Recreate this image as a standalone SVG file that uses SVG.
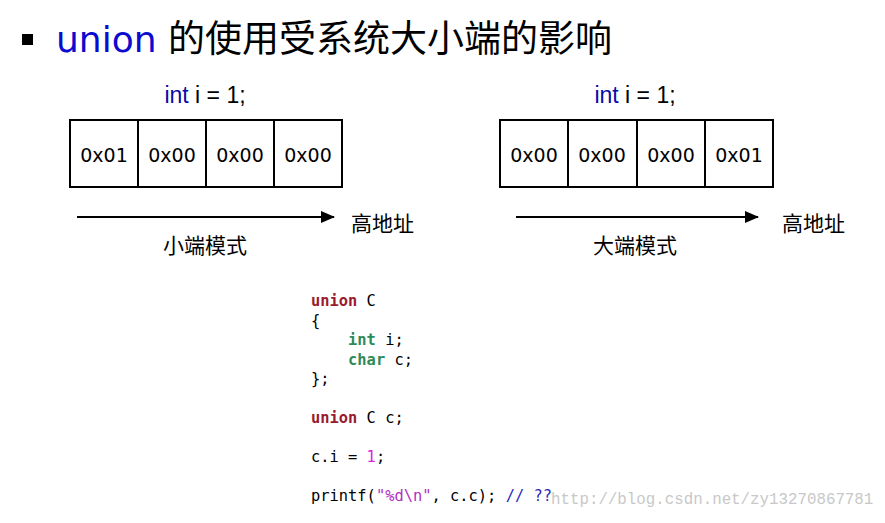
<svg xmlns="http://www.w3.org/2000/svg" width="885" height="523" viewBox="0 0 885 523">
<defs>
<style>
.t{font-family:"Liberation Sans","Noto Sans CJK SC",sans-serif;fill:#000}
.cell{fill:#fff;stroke:#000;stroke-width:2}
.ct{font-family:"DejaVu Sans","Noto Sans CJK SC",sans-serif;font-size:19px;text-anchor:middle;fill:#000}
.lbl{font-family:"Noto Sans CJK SC",sans-serif;font-size:21px;fill:#000}
.code{font-family:"DejaVu Sans Mono",monospace;font-size:15.4px;fill:#000}
.kw{fill:#9b1b2e;font-weight:bold}
.ty{fill:#2e8b57;font-weight:bold}
.line{stroke:#000;stroke-width:2;fill:none}
</style>
<marker id="ah" markerWidth="14" markerHeight="12" refX="13" refY="6" orient="auto" markerUnits="userSpaceOnUse">
<path d="M0,0 L14,6 L0,12 Z" fill="#000"/>
</marker>
</defs>
<rect width="885" height="523" fill="#fff"/>
<g id="title">
<rect x="22" y="34" width="11" height="11" fill="#000"/>
<text x="56" y="52" font-family="DejaVu Sans,sans-serif" font-size="36" fill="#0a0ad0">union</text>
<text x="168" y="52" font-family="Noto Sans CJK SC,sans-serif" font-size="37" fill="#000">的使用受系统大小端的影响</text>
</g>
<g id="little-endian">
<text x="205" y="103" class="t" font-size="23" text-anchor="middle"><tspan fill="#0a0aa8">int</tspan> i = 1;</text>
<rect class="cell" x="70" y="120" width="68" height="67"/>
<rect class="cell" x="138" y="120" width="68" height="67"/>
<rect class="cell" x="206" y="120" width="68" height="67"/>
<rect class="cell" x="274" y="120" width="68" height="67"/>
<text class="ct" x="104" y="162">0x01</text>
<text class="ct" x="172" y="162">0x00</text>
<text class="ct" x="240" y="162">0x00</text>
<text class="ct" x="308" y="162">0x00</text>
<text class="lbl" x="205" y="253" text-anchor="middle">小端模式</text>
<text class="lbl" x="351" y="231">高地址</text>
</g>
<g id="big-endian">
<text x="635" y="103" class="t" font-size="23" text-anchor="middle"><tspan fill="#0a0aa8">int</tspan> i = 1;</text>
<rect class="cell" x="500" y="120" width="68" height="67"/>
<rect class="cell" x="568" y="120" width="69" height="67"/>
<rect class="cell" x="637" y="120" width="68" height="67"/>
<rect class="cell" x="705" y="120" width="68" height="67"/>
<text class="ct" x="534" y="162">0x00</text>
<text class="ct" x="602" y="162">0x00</text>
<text class="ct" x="671" y="162">0x00</text>
<text class="ct" x="739" y="162">0x01</text>
<text class="lbl" x="635" y="253" text-anchor="middle">大端模式</text>
<text class="lbl" x="782" y="231">高地址</text>
</g>
<g id="connectors">
<line class="line" x1="77" y1="217" x2="334" y2="217" marker-end="url(#ah)"/>
<line class="line" x1="516" y1="217" x2="758" y2="217" marker-end="url(#ah)"/>
</g>
<g id="code">
<text class="code" x="311" y="306"><tspan class="kw">union</tspan> C</text>
<text class="code" x="311" y="326">{</text>
<text class="code" x="311" y="345" xml:space="preserve">    <tspan class="ty">int</tspan> i;</text>
<text class="code" x="311" y="365" xml:space="preserve">    <tspan class="ty">char</tspan> c;</text>
<text class="code" x="311" y="384">};</text>
<text class="code" x="311" y="423"><tspan class="kw">union</tspan> C c;</text>
<text class="code" x="311" y="462">c.i = <tspan fill="#e020e0">1</tspan>;</text>
<text class="code" x="311" y="501" xml:space="preserve">printf(<tspan fill="#b030c0">"%d\n"</tspan>, c.c); <tspan fill="#2a2ab8">// ??</tspan></text>
</g>
<text x="551" y="504" font-family="Liberation Mono,monospace" font-size="15.8" fill="#c8c8c8">http://blog.csdn.net/zy13270867781</text>
</svg>
